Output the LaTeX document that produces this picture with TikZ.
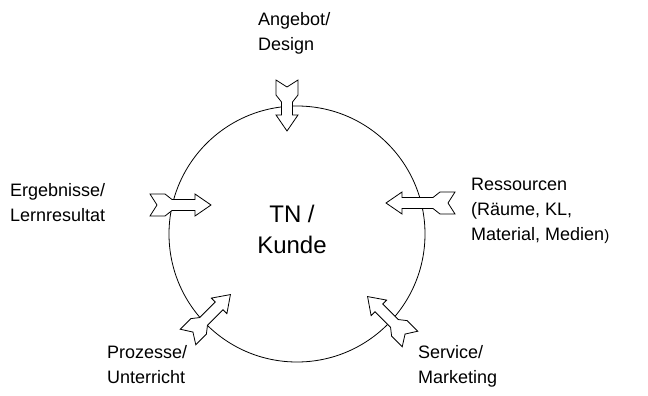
\documentclass[tikz,border=0pt]{standalone}
\usepackage{fontspec}
\setmainfont{Liberation Sans}
\newcommand\NArrow[3]{%
  \draw[arrowsty, shift={(#1)}, rotate=#2]
    (0,11) -- (7,0) -- (0,-11) -- (15,-11) -- (22,-5.5) -- ({#3-16},-5.5) -- ({#3-16},-11)
    -- (#3,0) -- ({#3-16},11) -- ({#3-16},5.5) -- (22,5.5) -- (15,11) -- cycle;}
\tikzset{
  arrowsty/.style={draw=black, fill=white, line width=0.8pt, line join=miter},
  lbl/.style={anchor=north west, inner sep=0pt, align=left, font=\fontsize{18}{25}\selectfont},
  ctr/.style={anchor=north, inner sep=0pt, align=center, font=\fontsize{24}{31}\selectfont}
}
\begin{document}
\begin{tikzpicture}[x=1pt,y=-1pt]
\useasboundingbox (0,0) rectangle (648,396);
\draw[line width=0.8pt] (297,234) circle[radius=128];
\node[ctr] (center) at (292,205) {TN /\\Kunde};
\NArrow{287,80}{-90}{51}
\NArrow{150,205}{0}{61}
\NArrow{455,203}{180}{69}
\NArrow{188,337}{45}{60}
\NArrow{410,339}{135}{60}
\node[lbl] (angebot) at (258,12) {Angebot/\\Design};
\node[lbl] (ergebnis) at (10,183) {Ergebnisse/\\Lernresultat};
\node[lbl] (ressourcen) at (471,178) {Ressourcen\\(Räume, KL,\\Material, Medien{\fontsize{15}{15}\selectfont )}};
\node[lbl] (service) at (418,345) {Service/\\Marketing};
\node[lbl] (prozesse) at (107,345) {Prozesse/\\Unterricht};
\end{tikzpicture}
\end{document}
